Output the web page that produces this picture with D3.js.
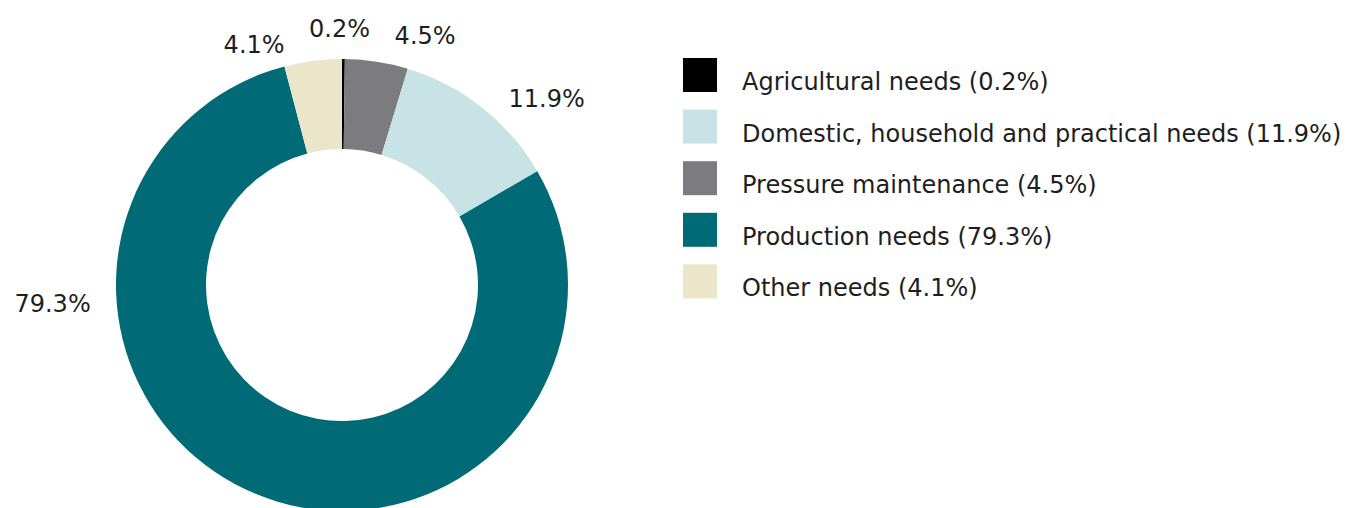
<!DOCTYPE html>
<html>
<head>
<meta charset="utf-8">
<script src="https://cdn.jsdelivr.net/npm/d3@7"></script>
<style>
  html, body { margin: 0; padding: 0; background: #fff; }
  svg text { font-family: "DejaVu Sans", sans-serif; fill: #1e1e1e; }
</style>
</head>
<body>
<svg id="chart" width="1348" height="508"></svg>
<script>
// Water use by purpose, share of total (%)
const categories = [
  "Agricultural needs",
  "Domestic, household and practical needs",
  "Pressure maintenance",
  "Production needs",
  "Other needs"
];
const values = [0.2, 11.9, 4.5, 79.3, 4.1];
const colors = ["#000000", "#c7e3e6", "#7b7b80", "#006b77", "#ebe5c9"];
// Order of the segments round the ring, clockwise from twelve o'clock
const ringOrder = [
  "Agricultural needs",
  "Pressure maintenance",
  "Domestic, household and practical needs",
  "Production needs",
  "Other needs"
];

const fmt = v => d3.format(".1f")(v) + "%";
const rows = categories.map((c, i) => ({ name: c, value: values[i], color: colors[i] }));
const byName = new Map(rows.map(r => [r.name, r]));

const svg = d3.select("#chart");
const cx = 342, cy = 285, outerR = 226, innerR = 136;
const fontSize = 24;

const color = d3.scaleOrdinal().domain(categories).range(colors);

const pie = d3.pie().sort(null).value(d => d.value);
const arcs = pie(ringOrder.map(n => byName.get(n)));
const arc = d3.arc().innerRadius(innerR).outerRadius(outerR);

const g = svg.append("g").attr("transform", `translate(${cx},${cy})`);
g.selectAll("path.slice")
  .data(arcs)
  .enter().append("path")
  .attr("class", "slice")
  .attr("d", arc)
  .attr("fill", d => color(d.data.name));

// Outside labels: shifted round the ring so they clear one another
const labelLayout = {
  "Agricultural needs": { turn: -0.9, r: 257 },
  "Pressure maintenance": { turn: 9.6, r: 263 },
  "Domestic, household and practical needs": { turn: 9.3, r: 277 },
  "Production needs": { turn: 63.9, r: 290 },
  "Other needs": { turn: -12.7, r: 256 }
};
g.selectAll("text.pct")
  .data(arcs)
  .enter().append("text")
  .attr("class", "pct")
  .attr("text-anchor", "middle")
  .attr("dy", "0.36em")
  .style("font-size", fontSize + "px")
  .attr("transform", d => {
    const L = labelLayout[d.data.name];
    const a = (d.startAngle + d.endAngle) / 2 + L.turn * Math.PI / 180;
    return `translate(${L.r * Math.sin(a)},${-L.r * Math.cos(a)})`;
  })
  .text(d => fmt(d.data.value));

// Legend
const legendX = 683, legendY = 58, swatch = 34, rowH = 51.6;
const legend = svg.append("g").attr("transform", `translate(${legendX},${legendY})`);
const item = legend.selectAll("g.item")
  .data(rows)
  .enter().append("g")
  .attr("class", "item")
  .attr("transform", (d, i) => `translate(0,${i * rowH})`);
item.append("rect")
  .attr("width", swatch)
  .attr("height", swatch)
  .attr("fill", d => color(d.name));
item.append("text")
  .attr("x", 59)
  .attr("y", 32)
  .style("font-size", fontSize + "px")
  .text(d => `${d.name} (${fmt(d.value)})`);
</script>
</body>
</html>
